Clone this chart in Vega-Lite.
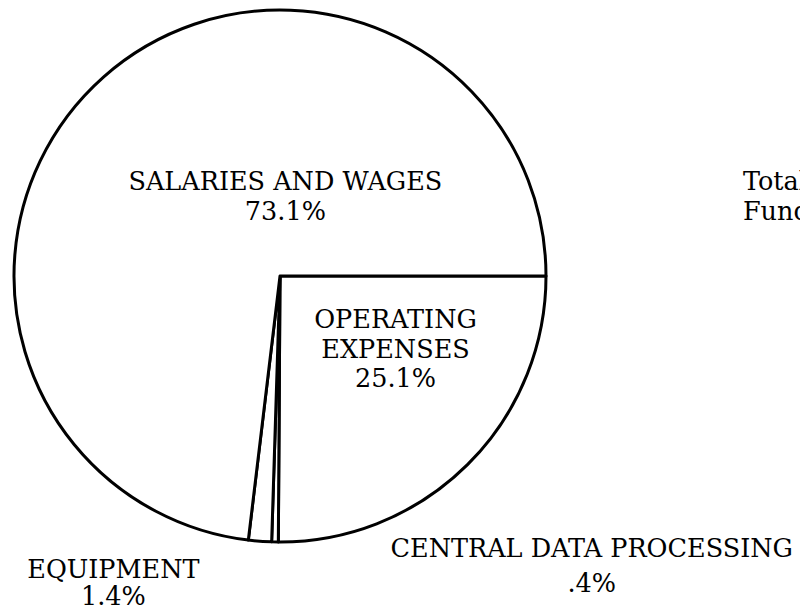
{
  "$schema": "https://vega.github.io/schema/vega-lite/v6.json",
  "width": 560,
  "height": 552,
  "autosize": {"type": "none"},
  "padding": {"left": 0, "top": 0, "right": 240, "bottom": 56},
  "background": "white",
  "config": {"view": {"stroke": null}},
  "title": {
    "text": ["Total", "Fund"],
    "orient": "top",
    "anchor": "start",
    "offset": 0,
    "dx": 806,
    "dy": 225,
    "font": "DejaVu Serif",
    "fontSize": 25.5,
    "fontWeight": "normal",
    "color": "black",
    "lineHeight": 30
  },
  "data": {
    "values": [
      {"category": "Operating Expenses", "label": ["OPERATING", "EXPENSES", "25.1%"], "pct": 25.1, "order": 1},
      {"category": "Central Data Processing", "label": ["CENTRAL DATA PROCESSING", ".4%"], "pct": 0.4, "order": 2},
      {"category": "Equipment", "label": ["EQUIPMENT", "1.4%"], "pct": 1.4, "order": 3},
      {"category": "Salaries and Wages", "label": ["SALARIES AND WAGES", "73.1%"], "pct": 73.1, "order": 4}
    ]
  },
  "encoding": {
    "theta": {"field": "pct", "type": "quantitative", "stack": true, "scale": {"range": [1.5707963, 7.8539816]}},
    "order": {"field": "order", "type": "quantitative"}
  },
  "layer": [
    {
      "mark": {"type": "arc", "radius": 266, "fill": "white", "stroke": "black", "strokeWidth": 3, "strokeJoin": "round"}
    },
    {
      "mark": {"type": "text", "radius": 120, "dx": 85, "dy": 4, "align": "center", "baseline": "alphabetic", "font": "DejaVu Serif", "fontSize": 25.5, "lineHeight": 30, "color": "black"},
      "encoding": {"text": {"condition": {"test": "datum.category === 'Salaries and Wages'", "field": "label"}, "value": ""}}
    },
    {
      "mark": {"type": "text", "radius": 110, "dx": 38, "dy": -26, "align": "center", "baseline": "alphabetic", "font": "DejaVu Serif", "fontSize": 25.5, "lineHeight": 29.5, "color": "black"},
      "encoding": {"text": {"condition": {"test": "datum.category === 'Operating Expenses'", "field": "label"}, "value": ""}}
    },
    {
      "mark": {"type": "text", "radius": 300, "dx": -144, "dy": 3, "align": "center", "baseline": "alphabetic", "font": "DejaVu Serif", "fontSize": 25.5, "lineHeight": 27, "color": "black"},
      "encoding": {"text": {"condition": {"test": "datum.category === 'Equipment'", "field": "label"}, "value": ""}}
    },
    {
      "mark": {"type": "text", "radius": 280, "dx": 317, "dy": 1, "align": "center", "baseline": "alphabetic", "font": "DejaVu Serif", "fontSize": 25.5, "lineHeight": 35, "color": "black"},
      "encoding": {"text": {"condition": {"test": "datum.category === 'Central Data Processing'", "field": "label"}, "value": ""}}
    }
  ]
}
